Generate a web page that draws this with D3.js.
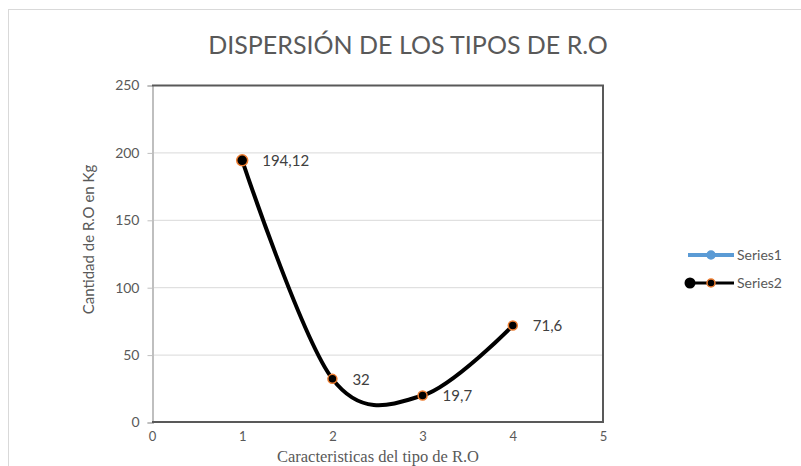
<!DOCTYPE html>
<html>
<head>
<meta charset="utf-8">
<script src="https://cdn.jsdelivr.net/npm/d3@7"></script>
<style>
  body { margin: 0; background: #fff; }
  text { font-family: Lato, "Open Sans", sans-serif; }
</style>
</head>
<body>
<svg id="chart" width="801" height="466"></svg>
<script>
// data
const xValues = [1, 2, 3, 4];
const series2 = [194.12, 32, 19.7, 71.6];
const pointLabels = ['194,12', '32', '19,7', '71,6'];
const xTicks = [0, 1, 2, 3, 4, 5];
const yTicks = [0, 50, 100, 150, 200, 250];
const legendNames = ['Series1', 'Series2'];

const svg = d3.select('#chart');
const plot = { left: 152, right: 603, top: 85, bottom: 422 };
const sans = 'Lato, "Open Sans", sans-serif';

const x = d3.scaleLinear().domain([0, 5]).range([plot.left, plot.right]);
const y = d3.scaleLinear().domain([0, 250]).range([plot.bottom, plot.top]);

// outer chart frame
svg.append('rect')
  .attr('x', 8.5).attr('y', 9.5)
  .attr('width', 820).attr('height', 480)
  .attr('fill', '#fff')
  .attr('stroke', '#d9d9d9');

// title
svg.append('text')
  .attr('x', 408).attr('y', 54)
  .attr('text-anchor', 'middle')
  .attr('font-size', 25)
  .attr('fill', '#595959')
  .style('font-family', sans)
  .text('DISPERSIÓN DE LOS TIPOS DE R.O');

// gridlines
svg.append('g')
  .selectAll('line')
  .data(yTicks.filter(d => d > 0 && d < 250))
  .join('line')
    .attr('x1', plot.left).attr('x2', plot.right)
    .attr('y1', d => y(d) + 0.5).attr('y2', d => y(d) + 0.5)
    .attr('stroke', '#d9d9d9');

// y axis (light)
const yAxis = svg.append('g')
  .attr('transform', `translate(${plot.left + 0.5},0.5)`)
  .call(d3.axisLeft(y).tickValues(yTicks).tickSize(5).tickPadding(8));
yAxis.select('.domain').attr('stroke', '#bfbfbf').attr('stroke-width', 2);
yAxis.selectAll('.tick line').attr('stroke', '#bfbfbf');
yAxis.selectAll('.tick text')
  .attr('font-size', 14).attr('fill', '#595959')
  .style('font-family', sans);

// x axis
const xAxis = svg.append('g')
  .attr('transform', `translate(0,${plot.bottom + 10})`)
  .call(d3.axisBottom(x).tickValues(xTicks).tickFormat(d3.format('d')).tickSize(0).tickPadding(0));
xAxis.select('.domain').remove();
xAxis.selectAll('.tick text')
  .attr('font-size', 13).attr('fill', '#595959')
  .style('font-family', sans);

// dark frame top, right, bottom
svg.append('path')
  .attr('d', `M${plot.left},${plot.top + 0.5}H${plot.right}V${plot.bottom}H${plot.left}`)
  .attr('fill', 'none')
  .attr('stroke', '#595959')
  .attr('stroke-width', 2);

// axis titles
svg.append('text')
  .attr('transform', `translate(94,${(plot.top + plot.bottom) / 2 - 14}) rotate(-90)`)
  .attr('text-anchor', 'middle')
  .attr('font-size', 15)
  .attr('fill', '#595959')
  .style('font-family', sans)
  .text('Cantidad de R.O en Kg');

svg.append('text')
  .attr('x', 378).attr('y', 462)
  .attr('text-anchor', 'middle')
  .attr('font-size', 16.5)
  .attr('fill', '#595959')
  .style('font-family', '"Liberation Serif", "DejaVu Serif", serif')
  .text('Caracteristicas  del tipo  de R.O');

// smoothed line
const pts = xValues.map((d, i) => [d, series2[i]]);
const line = d3.line()
  .x(d => x(d[0]))
  .y(d => y(d[1]))
  .curve(d3.curveCardinal.tension(0));

svg.append('path')
  .datum(pts)
  .attr('d', line)
  .attr('fill', 'none')
  .attr('stroke', '#000')
  .attr('stroke-width', 4);

svg.append('g')
  .selectAll('circle')
  .data(pts)
  .join('circle')
    .attr('cx', d => x(d[0]))
    .attr('cy', d => y(d[1]))
    .attr('r', (d, i) => i === 0 ? 5.5 : 4.5)
    .attr('fill', '#000')
    .attr('stroke', '#ed7d31')
    .attr('stroke-width', 1.5);

svg.append('g')
  .selectAll('text')
  .data(pts)
  .join('text')
    .attr('x', d => x(d[0]) + 20)
    .attr('y', d => y(d[1]) + 6)
    .attr('font-size', 15)
    .attr('fill', '#404040')
    .style('font-family', sans)
    .text((d, i) => pointLabels[i]);

// legend
const legend = svg.append('g').attr('transform', 'translate(688,255)');
const item = legend.selectAll('g')
  .data(legendNames)
  .join('g')
    .attr('transform', (d, i) => `translate(0,${i * 28})`);

item.append('line')
  .attr('x1', 0).attr('x2', 46)
  .attr('stroke', (d, i) => i === 0 ? '#5b9bd5' : '#000')
  .attr('stroke-width', (d, i) => i === 0 ? 4 : 3);

item.filter((d, i) => i === 1)
  .append('circle')
  .attr('cx', 2).attr('r', 5.5).attr('fill', '#000');

item.append('circle')
  .attr('cx', 23)
  .attr('r', 4)
  .attr('fill', (d, i) => i === 0 ? '#5b9bd5' : '#000')
  .attr('stroke', (d, i) => i === 0 ? '#5b9bd5' : '#ed7d31')
  .attr('stroke-width', 1.5);

item.append('text')
  .attr('x', 49).attr('y', 5)
  .attr('font-size', 14)
  .attr('fill', '#595959')
  .style('font-family', sans)
  .text(d => d);
</script>
</body>
</html>
